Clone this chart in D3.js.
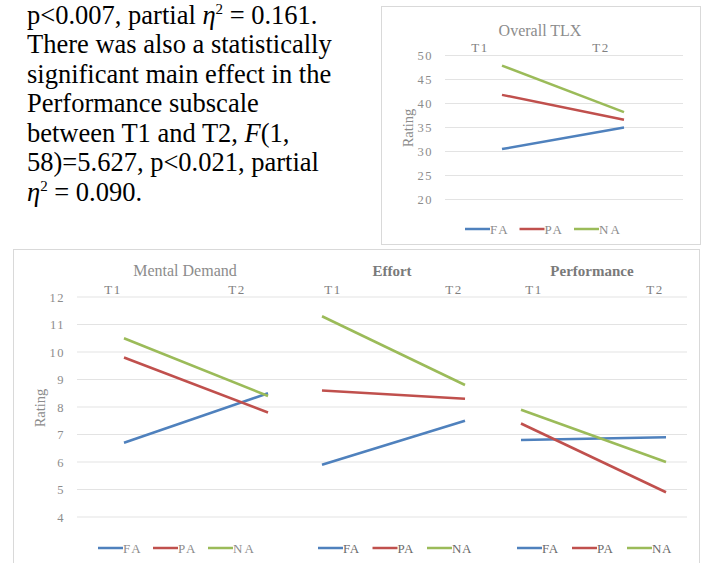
<!DOCTYPE html>
<html>
<head>
<meta charset="utf-8">
<script src="https://cdn.jsdelivr.net/npm/d3@7"></script>
<style>
  body { margin: 0; background: #fff; }
  svg { display: block; }
</style>
</head>
<body>
<svg id="chart" width="706" height="563"></svg>
<script>
// data
const times = ["T1", "T2"];
const groups = ["FA", "PA", "NA"];
const colors = ["#4f81bd", "#c0504d", "#9bbb59"];

const overallFA = [30.5, 35.0];
const overallPA = [41.8, 36.6];
const overallNA = [47.9, 38.2];
const overallTicks = [20, 25, 30, 35, 40, 45, 50];

const mentalFA = [6.7, 8.5];
const mentalPA = [9.8, 7.8];
const mentalNA = [10.5, 8.4];
const effortFA = [5.9, 7.5];
const effortPA = [8.6, 8.3];
const effortNA = [11.3, 8.8];
const perfFA = [6.8, 6.9];
const perfPA = [7.4, 4.9];
const perfNA = [7.9, 6.0];
const subTicks = [4, 5, 6, 7, 8, 9, 10, 11, 12];

const svg = d3.select('#chart');
const serif = '"Liberation Serif", "Times New Roman", serif';

// paragraph text on the left, [text, style] pieces per line
const lines = [
  [['p<0.007, partial ', ''], ['η', 'i'], ['2', 's'], [' = 0.161.', 'b']],
  [['There was also a statistically', '']],
  [['significant main effect in the', '']],
  [['Performance subscale', '']],
  [['between T1 and T2, ', ''], ['F', 'i'], ['(1,', '']],
  [['58)=5.627, p<0.021, partial', '']],
  [['η', 'i'], ['2', 's'], [' = 0.090.', 'b']]
];
lines.forEach(function(parts, i) {
  const t = svg.append('text')
    .attr('font-family', serif)
    .attr('font-size', 26.5)
    .attr('fill', '#000')
    .attr('x', 27)
    .attr('y', 23.5 + i * 29.5);
  parts.forEach(function(p) {
    const ts = t.append('tspan').text(p[0]);
    if (p[1] == 'i') ts.attr('font-style', 'italic');
    if (p[1] == 's') ts.attr('font-size', 15).attr('dy', -9.5);
    if (p[1] == 'b') ts.attr('dy', 9.5);
  });
});

// frames
svg.append('rect').attr('x', 381.5).attr('y', 6.5).attr('width', 319).attr('height', 238)
  .attr('fill', 'none').attr('stroke', '#d9d9d9');
svg.append('rect').attr('x', 13.5).attr('y', 249.5).attr('width', 686).attr('height', 330)
  .attr('fill', 'none').attr('stroke', '#d9d9d9');

function drawPanel(o) {
  const g = svg.append('g');
  const y = d3.scaleLinear().domain(o.domain).range(o.yRange);
  const x = d3.scalePoint().domain(times).range(o.xLine);
  const xl = d3.scalePoint().domain(times).range(o.xLabel);

  g.selectAll('line.grid')
    .data(o.ticks)
    .join('line')
    .attr('class', 'grid')
    .attr('x1', o.grid[0]).attr('x2', o.grid[1])
    .attr('y1', function(d) { return y(d); })
    .attr('y2', function(d) { return y(d); })
    .attr('stroke', '#e3e3e3').attr('stroke-width', 1);

  if (o.tickX) {
    g.selectAll('text.tick')
      .data(o.ticks)
      .join('text')
      .attr('class', 'tick')
      .attr('x', o.tickX)
      .attr('y', function(d) { return y(d) + 4.5; })
      .attr('text-anchor', 'end')
      .attr('font-family', serif).attr('font-size', 12.5)
      .attr('letter-spacing', 1.5)
      .attr('fill', '#8c8c8c')
      .text(function(d) { return d; });
    g.append('text')
      .attr('transform', 'translate(' + o.labelPos[0] + ',' + o.labelPos[1] + ') rotate(-90)')
      .attr('text-anchor', 'middle')
      .attr('font-family', serif).attr('font-size', 14.5)
      .attr('fill', '#8c8c8c')
      .text('Rating');
  }

  g.append('text')
    .attr('x', o.titleX).attr('y', o.titleY)
    .attr('text-anchor', 'middle')
    .attr('font-family', serif).attr('font-size', o.titleSize)
    .attr('font-weight', o.bold ? 'bold' : 'normal')
    .attr('fill', o.bold ? '#7a7a7a' : '#8c8c8c')
    .text(o.title);

  g.selectAll('text.cat')
    .data(times)
    .join('text')
    .attr('class', 'cat')
    .attr('x', function(d) { return xl(d); })
    .attr('y', o.catY)
    .attr('text-anchor', 'middle')
    .attr('font-family', serif).attr('font-size', 13)
    .attr('letter-spacing', 1.5)
    .attr('fill', '#808080')
    .text(function(d) { return d; });

  const line = d3.line()
    .x(function(d, i) { return x(times[i]); })
    .y(function(d) { return y(d); });

  g.selectAll('path.series')
    .data(o.series)
    .join('path')
    .attr('class', 'series')
    .attr('d', function(d) { return line(d); })
    .attr('fill', 'none')
    .attr('stroke', function(d, i) { return colors[i]; })
    .attr('stroke-width', 2.5);

  const leg = g.selectAll('g.leg')
    .data(groups)
    .join('g')
    .attr('class', 'leg')
    .attr('transform', function(d, i) { return 'translate(' + (o.legX + i * o.legStep) + ',' + o.legY + ')'; });
  leg.append('line')
    .attr('x1', 0).attr('x2', 25).attr('y1', 0).attr('y2', 0)
    .attr('stroke', function(d, i) { return colors[i]; })
    .attr('stroke-width', 2.5);
  leg.append('text')
    .attr('x', 25).attr('y', 4.5)
    .attr('font-family', serif).attr('font-size', 13)
    .attr('letter-spacing', o.bold ? 0.5 : 2)
    .attr('fill', o.bold ? '#6a6a6a' : '#8c8c8c')
    .text(function(d) { return d; });
}

drawPanel({
  title: 'Overall TLX', titleX: 540, titleY: 36, titleSize: 16,
  domain: [20, 50], yRange: [199.5, 55.5], ticks: overallTicks,
  grid: [445, 683], tickX: 433, labelPos: [413, 128],
  xLine: [502, 624], xLabel: [480, 601], catY: 51.5,
  series: [overallFA, overallPA, overallNA],
  legX: 465, legStep: 54.5, legY: 229
});

drawPanel({
  title: 'Mental Demand', titleX: 185, titleY: 275.5, titleSize: 16,
  domain: [4, 12], yRange: [517, 297], ticks: subTicks,
  grid: [77, 291], tickX: 65, labelPos: [45, 408],
  xLine: [124, 268], xLabel: [113, 237], catY: 294,
  series: [mentalFA, mentalPA, mentalNA],
  legX: 98, legStep: 55, legY: 548
});

drawPanel({
  title: 'Effort', titleX: 392, titleY: 275.5, titleSize: 15, bold: true,
  domain: [4, 12], yRange: [517, 297], ticks: subTicks,
  grid: [291, 490],
  xLine: [322, 465], xLabel: [333, 454], catY: 294,
  series: [effortFA, effortPA, effortNA],
  legX: 318, legStep: 54.5, legY: 548
});

drawPanel({
  title: 'Performance', titleX: 592, titleY: 275.5, titleSize: 15, bold: true,
  domain: [4, 12], yRange: [517, 297], ticks: subTicks,
  grid: [490, 687],
  xLine: [521, 666], xLabel: [534, 655], catY: 294,
  series: [perfFA, perfPA, perfNA],
  legX: 517, legStep: 55, legY: 548
});
</script>
</body>
</html>
